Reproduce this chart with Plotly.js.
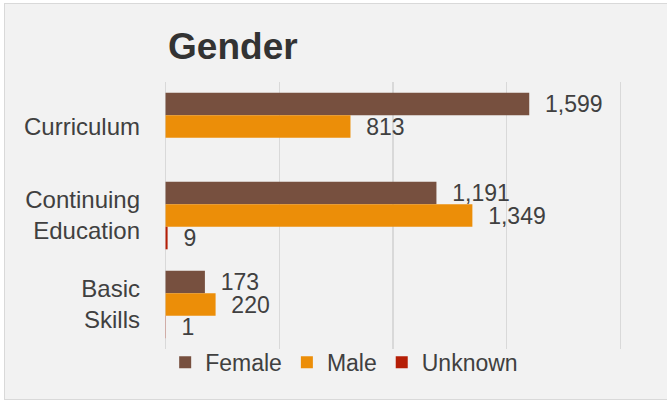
<!DOCTYPE html>
<html>
<head>
<meta charset="utf-8">
<script src="https://cdn.plot.ly/plotly-3.0.1.min.js"></script>
<style>
  html, body { margin: 0; padding: 0; background: #ffffff; }
  #frame { position: absolute; left: 4px; top: 3px; width: 663px; height: 395px;
           border-left: 1px solid #d9d9d9; border-top: 1px solid #d9d9d9; border-bottom: 1px solid #d9d9d9;
           background: #f2f2f2; }
  #chart { width: 663px; height: 395px; }
</style>
</head>
<body>
<div id="frame"><div id="chart"></div></div>
<script>
const categories = ['Curriculum', 'Continuing<br>Education', 'Basic<br>Skills'];
const female = [1599, 1191, 173];
const male = [813, 1349, 220];
const unknown = [null, 9, 1];
const seriesNames = ['Female', 'Male', 'Unknown'];
const seriesColors = ['#77503f', '#ec8e08', '#b51e06'];
const xTicks = [0, 500, 1000, 1500, 2000];

const seriesValues = [female, male, unknown];
const traces = seriesValues.map((vals, i) => ({
  type: 'bar',
  orientation: 'h',
  name: seriesNames[i],
  y: categories,
  x: vals,
  marker: { color: seriesColors[i] },
  texttemplate: '\u00a0\u00a0%{x:,}',
  textposition: 'outside',
  constraintext: 'none',
  cliponaxis: false,
  textfont: { family: 'Liberation Sans, Arial, sans-serif', size: 23, color: '#404040' },
  hoverinfo: 'skip'
}));

const layout = {
  width: 663, height: 395,
  paper_bgcolor: '#f2f2f2',
  plot_bgcolor: '#f2f2f2',
  margin: { l: 155.5, r: 42.5, t: 78, b: 50 },
  font: { family: 'Liberation Sans, Arial, sans-serif', size: 24, color: '#404040' },
  title: {
    text: 'Gender',
    font: { family: 'Liberation Sans, Arial, sans-serif', size: 37, weight: 'bold', color: '#333333' },
    xref: 'container', yref: 'container',
    x: 0.246, xanchor: 'left',
    y: 0.893, yanchor: 'middle',
    pad: { t: 0, b: 0, l: 0, r: 0 }
  },
  barmode: 'group',
  bargap: 0.24,
  bargroupgap: 0,
  xaxis: {
    range: [-20, 2020],
    tickvals: xTicks,
    showticklabels: false,
    showgrid: true,
    gridcolor: '#d9d9d9',
    gridwidth: 1.5,
    zeroline: false,
    showline: false,
    fixedrange: true
  },
  yaxis: {
    autorange: 'reversed',
    showgrid: false,
    zeroline: false,
    showline: false,
    ticks: '',
    ticklabelstandoff: 20,
    tickfont: { size: 24, color: '#404040' },
    fixedrange: true
  },
  showlegend: true,
  legend: {
    orientation: 'h',
    x: 0.009, xanchor: 'left',
    y: -0.05, yanchor: 'middle',
    font: { size: 23, color: '#404040' },
    bgcolor: 'rgba(0,0,0,0)',
    traceorder: 'normal'
  }
};

Plotly.newPlot('chart', traces, layout, { displayModeBar: false, staticPlot: true });
</script>
</body>
</html>
